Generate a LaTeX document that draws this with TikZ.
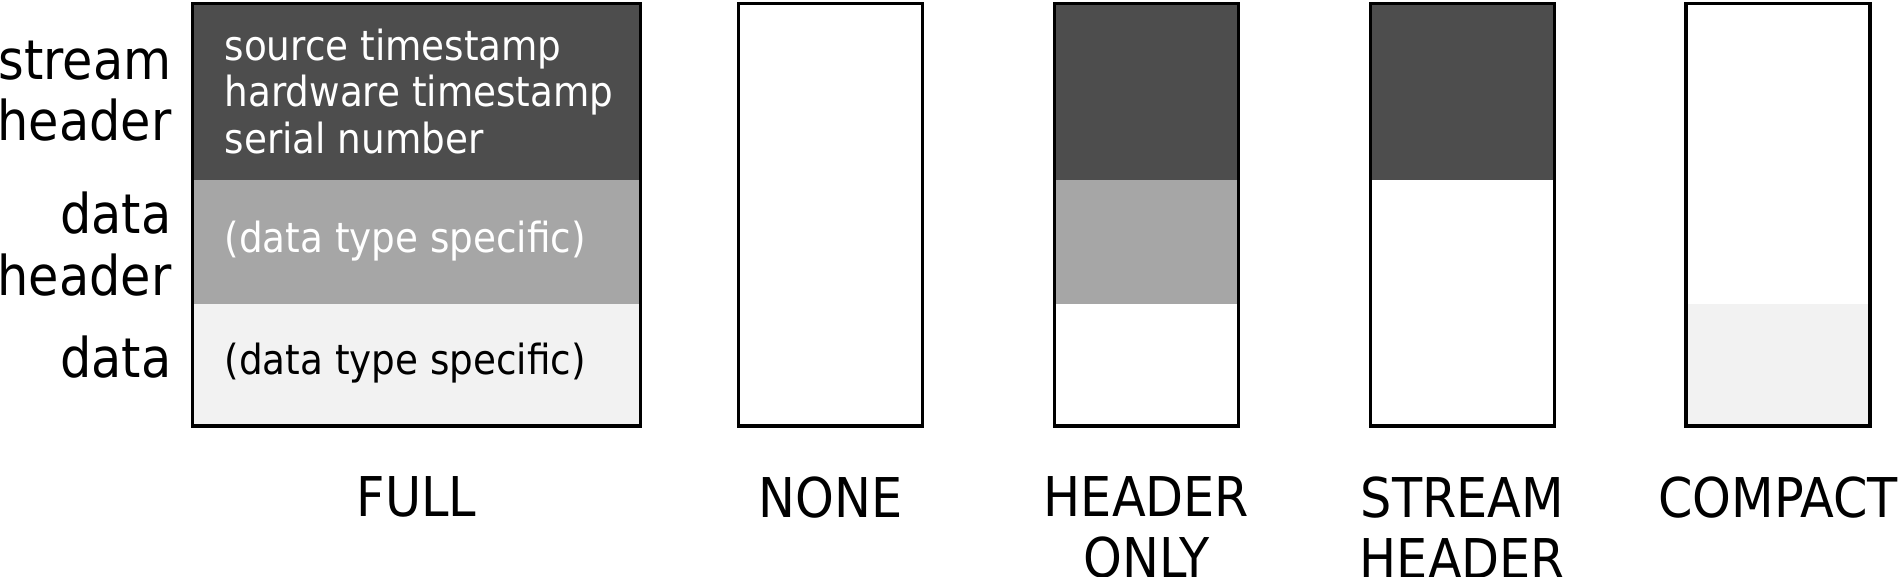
\documentclass[tikz,border=0pt]{standalone}
\usepackage{fontspec}
\setmainfont{DejaVu Sans Condensed}
\definecolor{darkhdr}{HTML}{4D4D4D}
\definecolor{midhdr}{HTML}{A6A6A6}
\definecolor{lightdata}{HTML}{F2F2F2}
\begin{document}
\begin{tikzpicture}[
  frame/.style={draw=black,line width=1pt},
  biglabel/.style={font=\fontsize{15.6}{17.4}\selectfont,inner sep=0pt},
  fieldtext/.style={font=\fontsize{11.8}{13.3}\selectfont,inner sep=0pt,align=left,anchor=west}]
\useasboundingbox (0,0) rectangle (18.99,5.76);
%\draw[step=1cm,gray,very thin] (0,0) grid (19,6);
% FULL
\fill[darkhdr] (1.925,3.96) rectangle (6.405,5.725);
\fill[midhdr] (1.925,2.725) rectangle (6.405,3.96);
\fill[lightdata] (1.925,1.5) rectangle (6.405,2.725);
\draw[frame] (1.925,1.5) rectangle (6.405,5.725);
% NONE
\draw[frame] (7.385,1.5) rectangle ++(1.84,4.225);
% HEADER ONLY
\fill[darkhdr] (10.545,3.96) rectangle ++(1.84,1.765);
\fill[midhdr] (10.545,2.725) rectangle ++(1.84,1.235);
\draw[frame] (10.545,1.5) rectangle ++(1.84,4.225);
% STREAM HEADER
\fill[darkhdr] (13.705,3.96) rectangle ++(1.84,1.765);
\draw[frame] (13.705,1.5) rectangle ++(1.84,4.225);
% COMPACT
\fill[lightdata] (16.86,1.5) rectangle ++(1.84,1.225);
\draw[frame] (16.86,1.5) rectangle ++(1.84,4.225);
% left side
\node[biglabel,align=right,anchor=east] (strlbl) at (1.72,4.846) {stream\\header};
\node[biglabel,align=right,anchor=east] (dhdrlbl) at (1.72,3.32) {data\\header};
\node[biglabel,anchor=east] (datalbl) at (1.72,2.19) {data};
% inside FULL
\node[fieldtext,text=white] (strfields) at (2.24,4.846) {source timestamp\\hardware timestamp\\serial number};
\node[fieldtext,text=white] (dhdrfields) at (2.24,3.35) {(data type specific)};
\node[fieldtext] (datafields) at (2.24,2.13) {(data type specific)};
% bottom
\node[biglabel,anchor=north] (fulllbl) at (4.165,1.0) {FULL};
\node[biglabel,anchor=north] (nonelbl) at (8.305,1.0) {NONE};
\node[biglabel,anchor=north,align=center] (hdronlylbl) at (11.465,1.0) {HEADER\\ONLY};
\node[biglabel,anchor=north,align=center] (strhdrlbl) at (14.625,1.0) {STREAM\\HEADER};
\node[biglabel,anchor=north] (compactlbl) at (17.78,1.0) {COMPACT};
\end{tikzpicture}
\end{document}
